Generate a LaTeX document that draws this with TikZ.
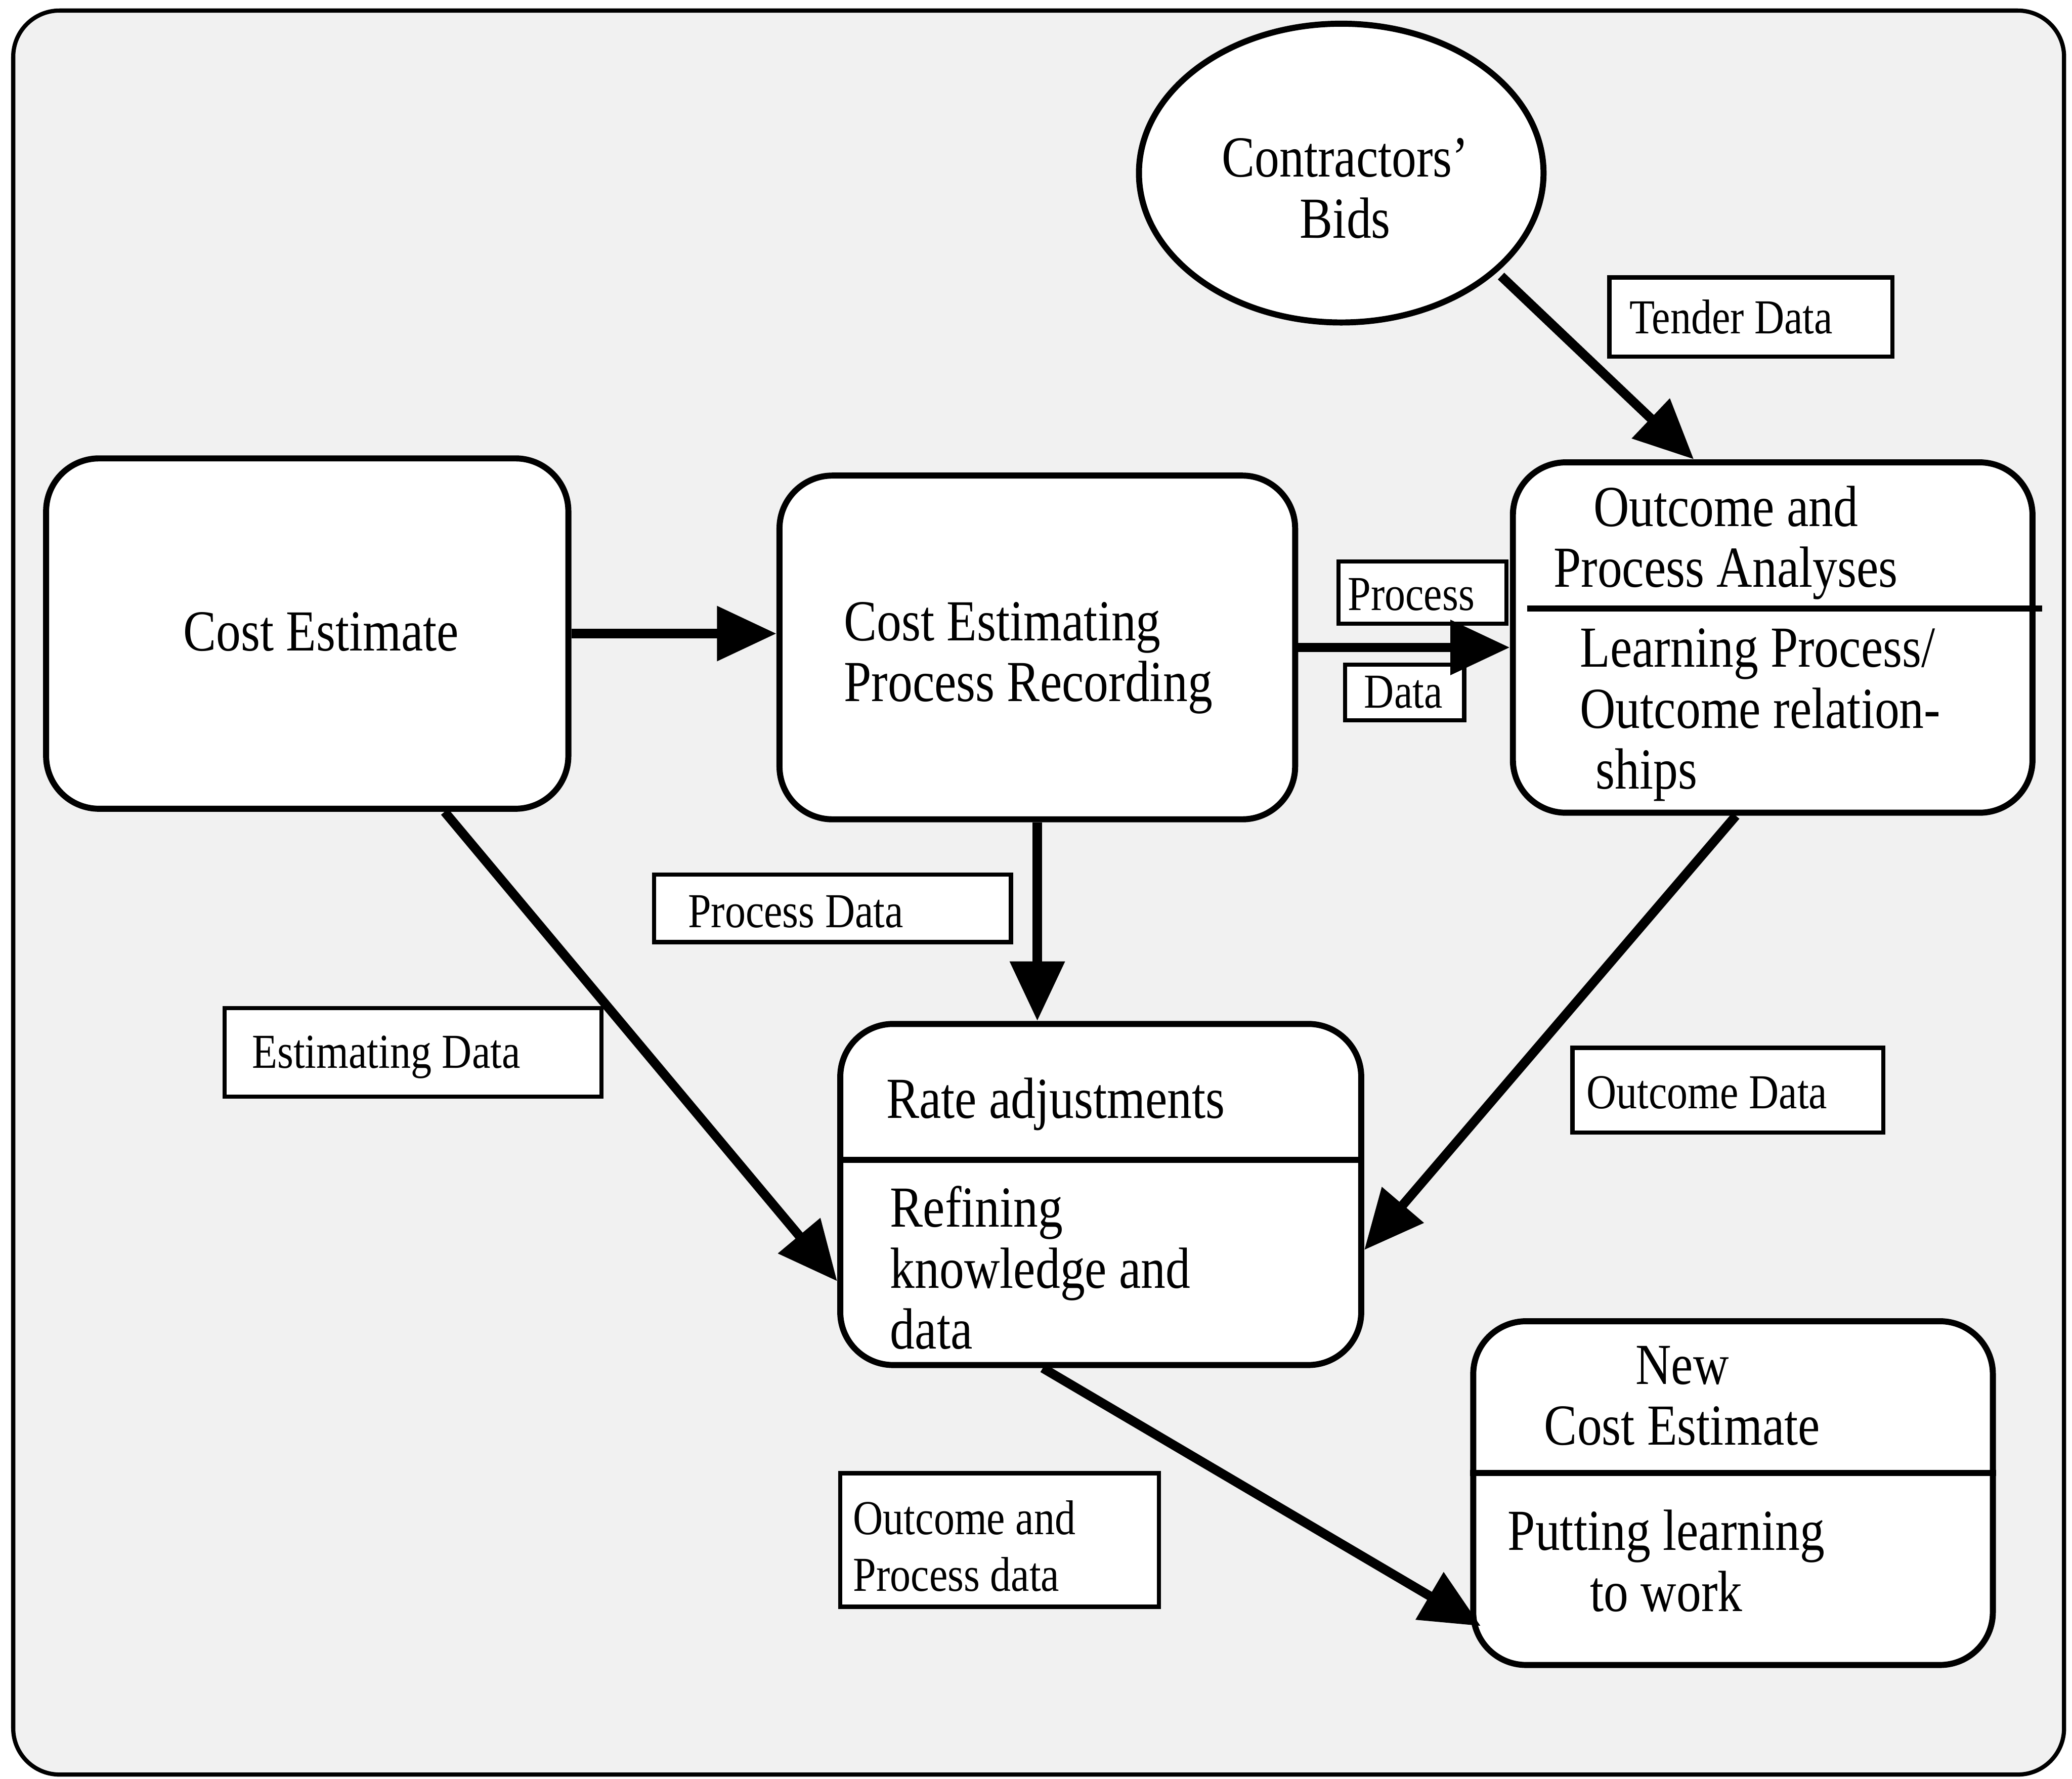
\documentclass[tikz,border=0pt]{standalone}
\usepackage{fontspec}
\setmainfont[FakeStretch=0.85]{Liberation Serif}
\usetikzlibrary{arrows.meta,shapes.geometric,calc}
\begin{document}
\begin{tikzpicture}[x=0.01cm,y=-0.01cm,
  box/.style={draw, line width=1.3pt, rounded corners=0.4cm, fill=white, inner sep=0},
  lbl/.style={draw, line width=0.9pt, fill=white, inner sep=0},
  big/.style={font=\fontsize{12.5}{13.1}\selectfont, inner sep=0},
  small/.style={font=\fontsize{10.5}{12.2}\selectfont, inner sep=0},
  flow/.style={line width=2pt, -{Triangle[length=0.45cm,width=0.4cm]}},
  divider/.style={line width=1.3pt}]
\useasboundingbox (0,0) rectangle (1568,1346);
\draw[line width=0.9pt, fill=gray!11, rounded corners=0.35cm] (10,8) rectangle (1562,1343);

% main boxes
\node[draw, ellipse, line width=1.3pt, fill=white, inner sep=0, minimum width=3.06cm, minimum height=2.26cm] (cb) at (1015,131) {};
\node[box, minimum width=3.95cm, minimum height=2.65cm] (ce) at (232.5,479.5) {};
\node[box, minimum width=3.90cm, minimum height=2.60cm] (cepr) at (785,490) {};
\node[box, minimum width=3.93cm, minimum height=2.65cm] (opa) at (1341.5,482.5) {};
\node[box, minimum width=3.94cm, minimum height=2.58cm] (rate) at (833,904) {};
\node[box, minimum width=3.93cm, minimum height=2.60cm] (new) at (1311.5,1130) {};

% dividers
\draw[divider] ($(opa.north west)+(13,113)$) -- ($(opa.north east)+(5,113)$);
\draw[divider] ($(rate.north west)+(0,105)$) -- ($(rate.north east)+(0,105)$);
\draw[divider] ($(new.north west)+(0,117)$) -- ($(new.north east)+(0,117)$);

% label boxes
\node[lbl, minimum width=2.14cm, minimum height=0.60cm] (tdl) at (1325,240) {};
\node[lbl, minimum width=1.27cm, minimum height=0.47cm] (pl) at (1076.5,448.5) {};
\node[lbl, minimum width=0.90cm, minimum height=0.42cm] (dl) at (1063,524) {};
\node[lbl, minimum width=2.70cm, minimum height=0.51cm] (pdl) at (630,687.5) {};
\node[lbl, minimum width=2.85cm, minimum height=0.67cm] (edl) at (312.5,796.5) {};
\node[lbl, minimum width=2.35cm, minimum height=0.64cm] (odl) at (1307.5,825) {};
\node[lbl, minimum width=2.41cm, minimum height=1.01cm] (opdl) at (756.5,1165.5) {};

% connectors
\draw[flow] (ce.east) -- (ce.east -| cepr.west);
\draw[flow] (cepr.east) -- (cepr.east -| opa.west);
\draw[flow] (cepr.south) -- (cepr.south |- rate.north);
\draw[flow] ($(cb.-33)+(4,2)$) -- ($(opa.north west)!0.35!(opa.north east)$);
\draw[flow] ($(ce.south west)!0.76!(ce.south east)$) -- ($(rate.north west)!0.75!(rate.south west)$);
\draw[flow] ($(opa.south west)!0.43!(opa.south east)$) -- ($(rate.north east)!0.66!(rate.south east)$);
\draw[flow] ($(rate.south west)!0.39!(rate.south east)$) -- ($(new.north west)!0.88!(new.south west)+(8,0)$);

% texts
\node[big, anchor=north, align=center] (t_cb) at (1018,104) {Contractors'\\Bids};
\node[small] (t_td) at (1310,240) {Tender Data};
\node[big] (t_ce) at (243,478) {Cost Estimate};
\node[big, anchor=north west, align=left] (t_cepr) at (638,455) {Cost Estimating\\Process Recording};
\node[big, anchor=north, align=center] (t_opa1) at (1306,367) {Outcome and\\Process Analyses};
\node[big, anchor=north west, align=left] (t_opa2) at (1195,475) {Learning Process/\\Outcome relation-\\\hspace{0.12cm}ships};
\node[small] (t_p) at (1068,450) {Process};
\node[small] (t_d) at (1062,524) {Data};
\node[small, anchor=west] (t_pd) at (520,690) {Process Data};
\node[small, anchor=west] (t_ed) at (190,800) {Estimating Data};
\node[big, anchor=north west] (t_ra) at (670,815) {Rate adjustments};
\node[big, anchor=north west, align=left] (t_rk) at (673,897) {Refining\\knowledge and\\data};
\node[small, anchor=west] (t_od) at (1200,827) {Outcome Data};
\node[big, anchor=north, align=center] (t_new) at (1273,1018) {New\\Cost Estimate};
\node[big, anchor=north, align=center] (t_put) at (1261,1142) {Putting learning\\to work};
\node[small, anchor=north west, align=left] (t_opd) at (645,1135) {Outcome and\\Process data};
\end{tikzpicture}
\end{document}
